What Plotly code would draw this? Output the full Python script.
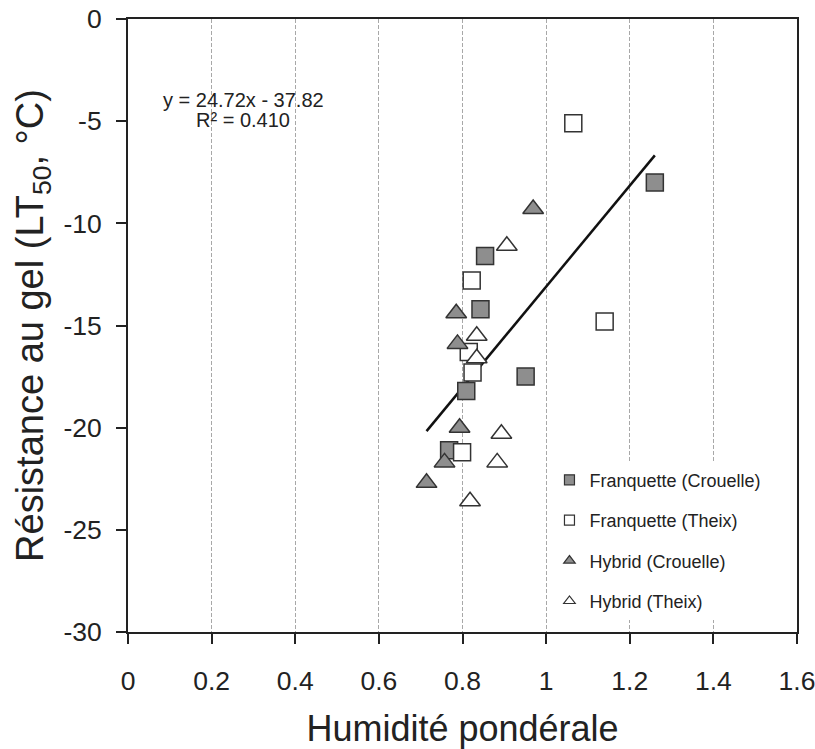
import plotly.graph_objects as go

# Data
fc_x = [1.26, 0.854, 0.843, 0.951, 0.809, 0.768]
fc_y = [-8.0, -11.6, -14.2, -17.5, -18.2, -21.1]
ft_x = [1.065, 0.822, 1.14, 0.815, 0.824, 0.799]
ft_y = [-5.1, -12.8, -14.8, -16.3, -17.3, -21.2]
hc_x = [0.969, 0.785, 0.788, 0.793, 0.757, 0.714]
hc_y = [-9.3, -14.4, -15.9, -20.0, -21.7, -22.7]
ht_x = [0.906, 0.834, 0.834, 0.893, 0.883, 0.818]
ht_y = [-11.1, -15.5, -16.6, -20.3, -21.7, -23.6]

series_names = ["Franquette (Crouelle)", "Franquette (Theix)", "Hybrid (Crouelle)", "Hybrid (Theix)"]
slope = 24.72
intercept = -37.82
eq_text = "y = 24.72x - 37.82"
r2_text = "R² = 0.410"

x_ticks = [0, 0.2, 0.4, 0.6, 0.8, 1.0, 1.2, 1.4, 1.6]
x_ticklabels = ["0", "0.2", "0.4", "0.6", "0.8", "1", "1.2", "1.4", "1.6"]
y_ticks = [0, -5, -10, -15, -20, -25, -30]
y_ticklabels = ["0", "-5", "-10", "-15", "-20", "-25", "-30"]

FONT = "Liberation Sans, Arial, sans-serif"
GRAY = "#8e8e8e"
EDGE = "#333333"

styles = [
    dict(symbol="square", color=GRAY),
    dict(symbol="square", color="white"),
    dict(symbol="triangle-up", color=GRAY),
    dict(symbol="triangle-up", color="white"),
]
sizes_plot = [17, 17, 18, 18]
sizes_leg = [10, 10, 10, 10]
data = [(fc_x, fc_y), (ft_x, ft_y), (hc_x, hc_y), (ht_x, ht_y)]

fig = go.Figure()

# regression line across the data range
all_x = fc_x + ft_x + hc_x + ht_x
xmin, xmax = min(all_x), max(all_x)
fig.add_trace(go.Scatter(
    x=[xmin, xmax], y=[slope * xmin + intercept, slope * xmax + intercept],
    mode="lines", line=dict(color="#111111", width=2.5), showlegend=False, hoverinfo="skip"))

for (xs, ys), st, sz, nm in zip(data, styles, sizes_plot, series_names):
    fig.add_trace(go.Scatter(
        x=xs, y=ys, mode="markers", name=nm, showlegend=False,
        marker=dict(symbol=st["symbol"], size=sz, color=st["color"],
                    line=dict(color=EDGE, width=1.5))))

# legend entries (small symbols)
for i, (st, sz, nm) in enumerate(zip(styles, sizes_leg, series_names)):
    fig.add_trace(go.Scatter(
        x=[None], y=[None], mode="markers", name=nm, legendgroup=f"g{i}",
        marker=dict(symbol=st["symbol"], size=sz, color=st["color"],
                    line=dict(color=EDGE, width=1.2))))

# white boxes behind the equation text and the legend (cover gridlines)
fig.add_shape(type="rect", xref="paper", yref="paper",
              x0=0.045, x1=0.30, y0=0.805, y1=0.9,
              fillcolor="white", line=dict(width=0), layer="between")
fig.add_shape(type="rect", xref="paper", yref="paper",
              x0=0.61, x1=0.99, y0=0.023, y1=0.281,
              fillcolor="white", line=dict(width=0), layer="between")
fig.add_annotation(x=0.172, y=0.868, xref="paper", yref="paper", text=eq_text,
                   showarrow=False, xanchor="center", yanchor="middle",
                   font=dict(family=FONT, size=20, color="#222"))
fig.add_annotation(x=0.172, y=0.835, xref="paper", yref="paper", text=r2_text,
                   showarrow=False, xanchor="center", yanchor="middle",
                   font=dict(family=FONT, size=20, color="#222"))

axis_common = dict(
    showline=True, linecolor="#222222", linewidth=2, mirror=True,
    ticks="outside", ticklen=10, tickwidth=2, tickcolor="#222222",
    tickfont=dict(family=FONT, size=26.5, color="#222"),
    zeroline=False, automargin=False, ticklabeloverflow="allow",
)

fig.update_xaxes(
    range=[0, 1.6], tickvals=x_ticks, ticktext=x_ticklabels,
    showgrid=True, gridcolor="#a8a8a8", gridwidth=1, griddash="4px,2px",
    ticklabelstandoff=14,
    title=dict(text="Humidité pondérale", font=dict(family=FONT, size=36, color="#222"), standoff=21),
    **axis_common)
fig.update_yaxes(
    range=[-30, 0], tickvals=y_ticks, ticktext=y_ticklabels, showgrid=False,
    ticklabelstandoff=9,
    title=dict(text="Résistance au gel (LT<sub>50</sub>, °C)",
               font=dict(family=FONT, size=38, color="#222"), standoff=8),
    **axis_common)

fig.update_layout(
    width=815, height=749,
    margin=dict(l=128, r=18, t=19, b=117),
    paper_bgcolor="white", plot_bgcolor="white",
    font=dict(family=FONT, color="#222"),
    legend=dict(x=0.63, y=0.278, xanchor="left", yanchor="top",
                bgcolor="white", borderwidth=0, tracegroupgap=14,
                font=dict(family=FONT, size=18, color="#222")),
)

# remove the default page margin so the figure fills the window exactly
fig.write_html("out.html", config={"displayModeBar": False},
               post_script="document.body.style.margin='0';")
